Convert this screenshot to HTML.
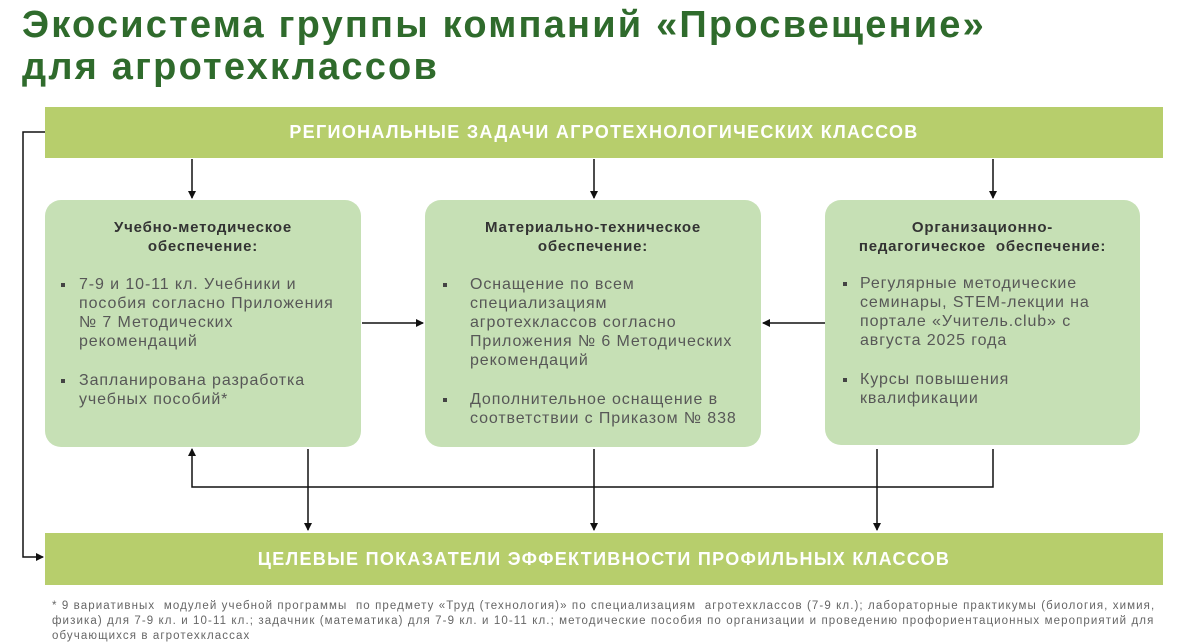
<!DOCTYPE html>
<html><head><meta charset="utf-8"><style>
body{margin:0;width:1190px;height:638px;background:#fff;position:relative;overflow:hidden;font-family:"Liberation Sans",sans-serif}
.t{position:absolute;left:22px;font-weight:bold;color:#2f6b2c;font-size:38px;letter-spacing:2.2px;white-space:nowrap}
.bar{position:absolute;left:45px;width:1118px;background:#b7ce6c;color:#fff;font-size:18px;font-weight:bold;text-align:center;letter-spacing:1.3px}
.box{position:absolute;top:200px;height:247px;background:#c6e0b5;border-radius:16px}
.l{position:absolute;font-size:16px;letter-spacing:0.9px;color:#575757;white-space:nowrap;line-height:19px}
.h{position:absolute;font-size:15px;letter-spacing:0.8px;font-weight:bold;color:#333;text-align:center;line-height:19px}
.b{position:absolute;width:4px;height:4px;background:#444}
.fn{position:absolute;left:52px;font-size:11.5px;letter-spacing:1.1px;color:#666;white-space:nowrap}
</style></head><body>
<div class="t" style="top:4px">Экосистема группы компаний «Просвещение»</div>
<div class="t" style="top:46px">для агротехклассов</div>

<div class="bar" style="top:107px;height:51px;line-height:51px">РЕГИОНАЛЬНЫЕ ЗАДАЧИ АГРОТЕХНОЛОГИЧЕСКИХ КЛАССОВ</div>
<div class="bar" style="top:533px;height:52px;line-height:52px">ЦЕЛЕВЫЕ ПОКАЗАТЕЛИ ЭФФЕКТИВНОСТИ ПРОФИЛЬНЫХ КЛАССОВ</div>

<div class="box" style="left:45px;width:316px"></div>
<div class="box" style="left:425px;width:336px"></div>
<div class="box" style="left:825px;width:315px;height:245px"></div>

<div class="h" style="left:45px;width:316px;top:218px">Учебно-методическое<br>обеспечение:</div>
<div class="b" style="left:61px;top:283px"></div><div class="b" style="left:61px;top:379px"></div>
<div class="l" style="left:79px;top:275px">7-9 и 10-11 кл. Учебники и<br>пособия согласно Приложения<br>№ 7 Методических<br>рекомендаций</div>
<div class="l" style="left:79px;top:371px">Запланирована разработка<br>учебных пособий*</div>

<div class="h" style="left:425px;width:336px;top:218px">Материально-техническое<br>обеспечение:</div>
<div class="b" style="left:443px;top:283px"></div><div class="b" style="left:443px;top:398px"></div>
<div class="l" style="left:470px;top:275px">Оснащение по всем<br>специализациям<br>агротехклассов согласно<br>Приложения № 6 Методических<br>рекомендаций</div>
<div class="l" style="left:470px;top:390px">Дополнительное оснащение в<br>соответствии с Приказом № 838</div>

<div class="h" style="left:825px;width:315px;top:218px">Организационно-<br>педагогическое&nbsp; обеспечение:</div>
<div class="b" style="left:843px;top:282px"></div><div class="b" style="left:843px;top:378px"></div>
<div class="l" style="left:860px;top:274px">Регулярные методические<br>семинары, STEM-лекции на<br>портале «Учитель.club» с<br>августа 2025 года</div>
<div class="l" style="left:860px;top:370px">Курсы повышения<br>квалификации</div>

<svg width="1190" height="638" style="position:absolute;left:0;top:0" fill="none" stroke="#111" stroke-width="1.5">
<defs><marker id="a" markerWidth="8" markerHeight="8" refX="7" refY="4" orient="auto" markerUnits="userSpaceOnUse"><path d="M0,0 L8,4 L0,8z" fill="#111" stroke="none"/></marker></defs>
<path d="M192,159 V198" marker-end="url(#a)"/>
<path d="M594,159 V198" marker-end="url(#a)"/>
<path d="M993,159 V198" marker-end="url(#a)"/>
<path d="M45,132 H23 V557 H43" marker-end="url(#a)"/>
<path d="M362,323 H423" marker-end="url(#a)"/>
<path d="M825,323 H763" marker-end="url(#a)"/>
<path d="M993,449 V487 H192 V449" marker-end="url(#a)"/>
<path d="M308,449 V530" marker-end="url(#a)"/>
<path d="M594,449 V530" marker-end="url(#a)"/>
<path d="M877,449 V530" marker-end="url(#a)"/>
</svg>

<div class="fn" style="top:600px">* 9 вариативных&nbsp; модулей учебной программы&nbsp; по предмету «Труд (технология)» по специализациям&nbsp; агротехклассов (7-9 кл.); лабораторные практикумы (биология, химия,</div>
<div class="fn" style="top:615px">физика) для 7-9 кл. и 10-11 кл.; задачник (математика) для 7-9 кл. и 10-11 кл.; методические пособия по организации и проведению профориентационных мероприятий для</div>
<div class="fn" style="top:630px">обучающихся в агротехклассах</div>
</body></html>
